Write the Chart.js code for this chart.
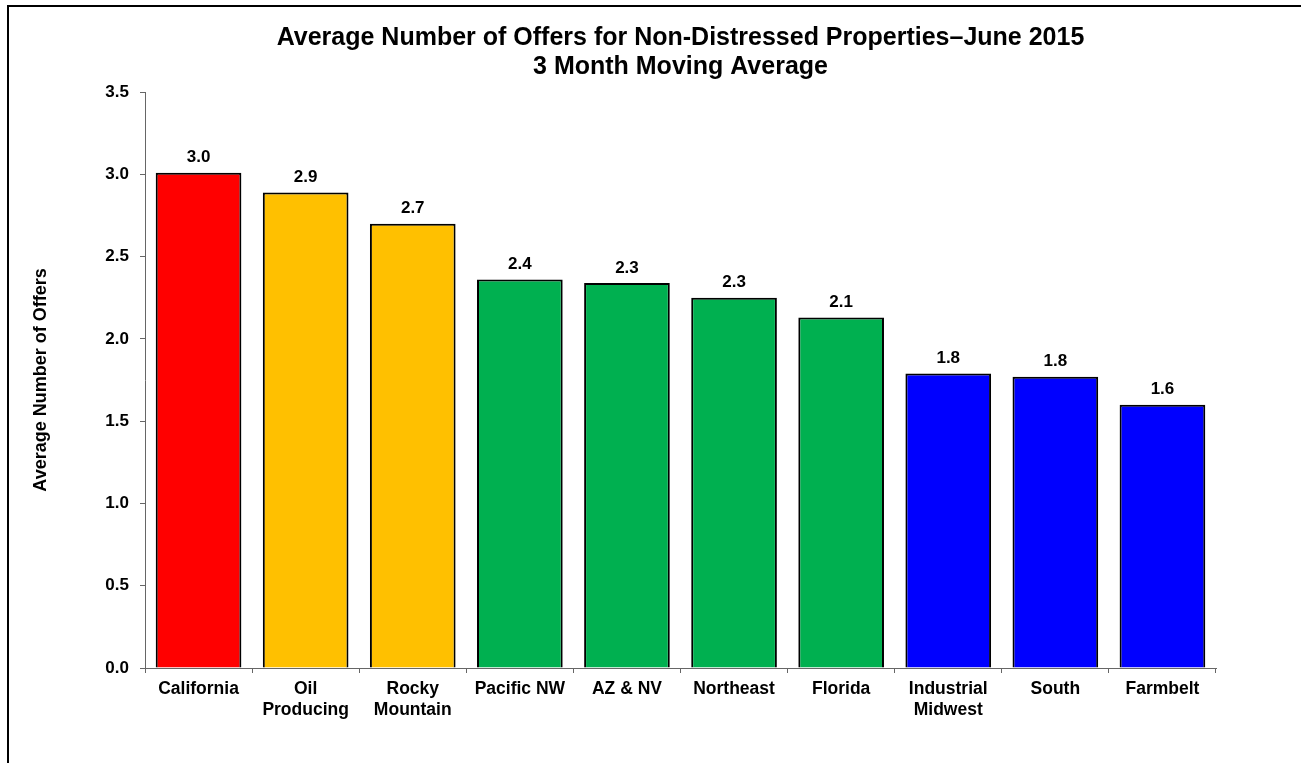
<!DOCTYPE html>
<html>
<head>
<meta charset="utf-8">
<title>Average Number of Offers</title>
<script src="https://cdn.jsdelivr.net/npm/chart.js@4"></script>
<style>
    html, body { margin: 0; padding: 0; background: #fff; overflow: hidden; }
    #frame {
        position: absolute; left: 7px; top: 5px; width: 1400px; height: 900px;
        border-top: 2px solid #000; border-left: 2px solid #000;
    }
    #wrap { position: absolute; left: 0; top: 0; width: 1301px; height: 763px; }
</style>
</head>
<body>
<div id="frame"></div>
<div id="wrap"><canvas id="offersChart"></canvas></div>
<script>
// Chart data
var categories = [
    'California', ['Oil', 'Producing'], ['Rocky', 'Mountain'], 'Pacific NW', 'AZ & NV',
    'Northeast', 'Florida', ['Industrial', 'Midwest'], 'South', 'Farmbelt'
];
var offers = [3.01, 2.89, 2.70, 2.36, 2.34, 2.25, 2.13, 1.79, 1.77, 1.60];
var barColors = [
    '#FF0000', '#FFC000', '#FFC000', '#00B050', '#00B050',
    '#00B050', '#00B050', '#0000FF', '#0000FF', '#0000FF'
];
var yTicks = [0, 0.5, 1.0, 1.5, 2.0, 2.5, 3.0, 3.5];

var FONT = '"Liberation Sans", Arial, sans-serif';

// Draws the value above each bar
var valueLabels = {
    id: 'valueLabels',
    afterDatasetsDraw: function(chart) {
        var ctx = chart.ctx;
        var meta = chart.getDatasetMeta(0);
        ctx.save();
        ctx.font = 'bold 17px ' + FONT;
        ctx.fillStyle = '#000';
        ctx.textAlign = 'center';
        ctx.textBaseline = 'middle';
        meta.data.forEach(function(bar, i) {
            ctx.fillText(offers[i].toFixed(1), bar.x, bar.y - 15);
        });
        ctx.restore();
    }
};

new Chart(document.getElementById('offersChart'), {
    type: 'bar',
    data: {
        labels: categories,
        datasets: [{
            data: offers,
            backgroundColor: barColors,
            borderColor: '#000',
            borderWidth: 2,
            barPercentage: 0.8,
            categoryPercentage: 1.0
        }]
    },
    options: {
        responsive: true,
        maintainAspectRatio: false,
        animation: false,
        layout: { padding: { left: 20, right: 85, top: 0, bottom: 0 } },
        plugins: {
            legend: { display: false },
            tooltip: { enabled: false },
            title: {
                display: true,
                fullSize: false,
                text: ['Average Number of Offers for Non-Distressed Properties\u2013June 2015', '3 Month Moving Average'],
                color: '#000',
                font: { family: FONT, size: 25, weight: 'bold', lineHeight: 1.16 },
                padding: { top: 24, bottom: 10 }
            }
        },
        scales: {
            x: {
                grid: { display: true, drawOnChartArea: false, drawTicks: true, tickLength: 5, color: '#666', offset: true },
                border: { display: true, color: '#666', width: 1 },
                ticks: {
                    color: '#000',
                    maxRotation: 0,
                    autoSkip: false,
                    padding: 6,
                    font: { family: FONT, size: 17.5, weight: 'bold', lineHeight: 1.2 }
                },
                afterFit: function(scale) { scale.height = 95; }
            },
            y: {
                min: 0,
                max: 3.5,
                afterBuildTicks: function(scale) {
                    scale.ticks = yTicks.map(function(v) { return { value: v }; });
                },
                grid: { display: true, drawOnChartArea: false, drawTicks: true, tickLength: 5, color: '#666' },
                border: { display: true, color: '#666', width: 1 },
                ticks: {
                    color: '#000',
                    padding: 11,
                    font: { family: FONT, size: 17, weight: 'bold' },
                    callback: function(v) { return Number(v).toFixed(1); }
                },
                title: {
                    display: true,
                    text: 'Average Number of Offers',
                    color: '#000',
                    font: { family: FONT, size: 18, weight: 'bold' },
                    padding: { top: 10, bottom: 0 }
                },
                afterFit: function(scale) { scale.width = 125; }
            }
        }
    },
    plugins: [valueLabels]
});
</script>
</body>
</html>
